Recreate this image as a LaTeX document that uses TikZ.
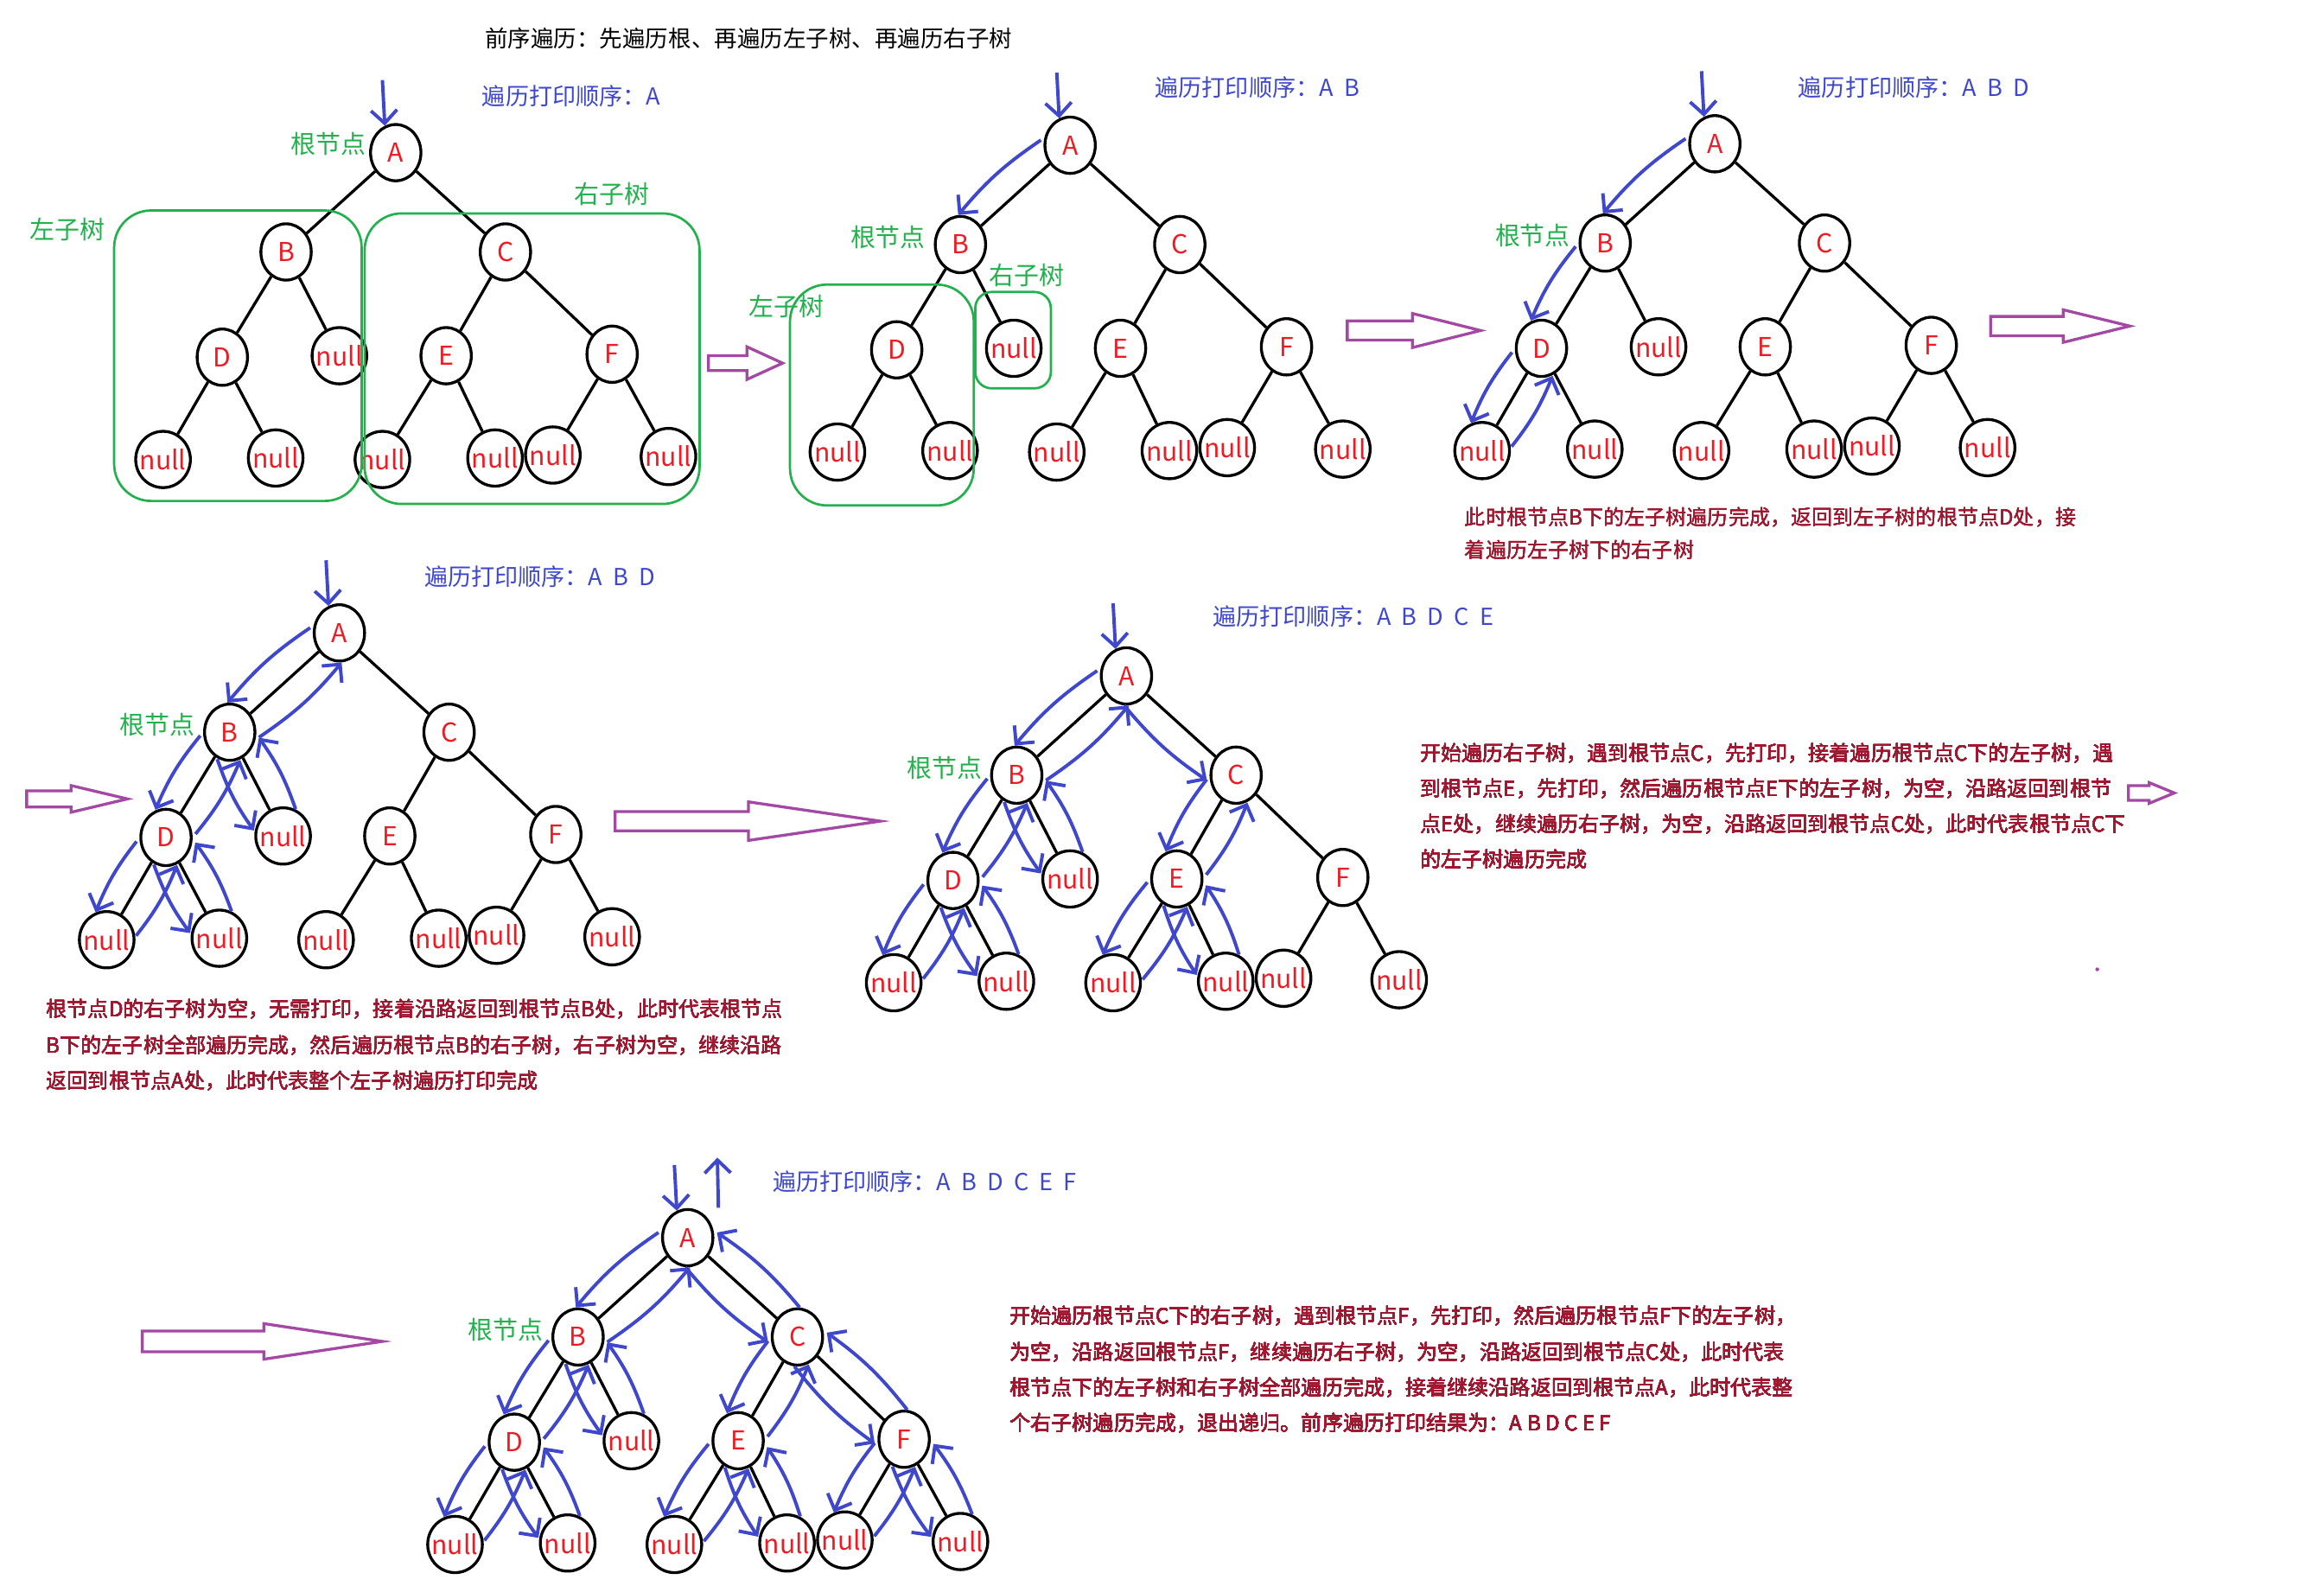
\documentclass[tikz,border=0pt]{standalone}
\usepackage{fontspec}
\setmainfont{Noto Sans CJK SC}
\usepackage{tikz}
\usetikzlibrary{arrows.meta, calc, positioning, shapes.geometric}
\definecolor{nodered}{HTML}{ED1C24}
\definecolor{walkblue}{HTML}{3F48CC}
\definecolor{treegreen}{HTML}{22B14C}
\definecolor{arrowpurple}{HTML}{A349A4}
\definecolor{notered}{HTML}{A0182F}

% one step of the walk, drawn beside the edge
\newcommand{\walk}[2]{\draw[walk] ($(#1)!7pt!(#2)!9pt!-90:(#2)$) to[bend right=8] ($(#2)!7pt!(#1)!9pt!90:(#1)$);}
% hollow arrow: x, y, end of shaft, tip, half shaft, half head
\newcommand{\blockarrow}[6]{\draw[hollow] (#1,#2-#5) -- (#3,#2-#5) -- (#3,#2-#6) -- (#4,#2)
  -- (#3,#2+#6) -- (#3,#2+#5) -- (#1,#2+#5) -- cycle;}

\begin{document}
\begin{tikzpicture}[x=0.02cm, y=-0.02cm,
    vertex/.style={draw, ellipse, line width=1.1pt, minimum width=0.68cm, minimum height=0.76cm,
                   inner sep=-1.5pt, text=nodered, font=\fontsize{10}{12}\selectfont},
    edge/.style={line width=1.1pt},
    walk/.style={walkblue, line width=1.3pt, -{Straight Barb[length=5pt, width=10pt]}},
    hollow/.style={arrowpurple, line width=1.1pt},
    greenbox/.style={treegreen, line width=0.9pt, rounded corners=0.5cm},
    greenlabel/.style={text=treegreen, font=\fontsize{9.6}{11}\selectfont, inner sep=0pt},
    order/.style={text=walkblue, font=\fontsize{9}{11}\selectfont, anchor=west, inner sep=0pt},
    note/.style={text=notered, font=\fontsize{8}{13.7}\selectfont, align=left, anchor=north west, inner sep=0pt},
    bintree/.pic={
      \node[vertex] (-A) at (0,0) {A};
      \node[vertex] (-B) at (-74,67) {B};
      \node[vertex] (-C) at (74,67) {C};
      \node[vertex] (-D) at (-117,138) {D};
      \node[vertex] (-nB) at (-38,137) {null};
      \node[vertex] (-E) at (34,137) {E};
      \node[vertex] (-F) at (146,136) {F};
      \node[vertex] (-nDL) at (-157,207) {null};
      \node[vertex] (-nDR) at (-81,206) {null};
      \node[vertex] (-nEL) at (-9,207) {null};
      \node[vertex] (-nER) at (67,206) {null};
      \node[vertex] (-nFL) at (106,204) {null};
      \node[vertex] (-nFR) at (184,205) {null};
      \coordinate (-in) at (-9,-49);
      \foreach \u/\v in {A/B, A/C, B/D, B/nB, C/E, C/F, D/nDL, D/nDR, E/nEL, E/nER, F/nFL, F/nFR}
        \draw[edge] (-\u) -- (-\v);
      \draw[walk] (-in) -- (-A.112);
    }
  ]
  \useasboundingbox (0,0) rectangle (1568,1070);

  \node[anchor=west, inner sep=0pt, font=\fontsize{8.8}{11}\selectfont] (title) at (327,26)
    {前序遍历：先遍历根、再遍历左子树、再遍历右子树};

  % tree 1
  \pic (t1) at (267,103) {bintree};
  \node[order] (t1-order) at (325,65) {遍历打印顺序：A};
  \node[greenlabel, left=1pt of t1-A, yshift=0.12cm] (t1-root) {根节点};
  \node[greenlabel, anchor=west] (t1-left) at (20,155) {左子树};
  \node[greenlabel, anchor=west] (t1-right) at (387,131) {右子树};
  \draw[greenbox] (77,142) rectangle (244,338);
  \draw[greenbox] (246,144) rectangle (472,340);
  \blockarrow{478}{245}{504}{528}{5}{11}

  % tree 2
  \pic (t2) at (722,98) {bintree};
  \node[order] (t2-order) at (779,59) {遍历打印顺序：A~~B};
  \node[greenlabel, left=3pt of t2-B, yshift=0.1cm] (t2-root) {根节点};
  \node[greenlabel, anchor=west] (t2-left) at (505,207) {左子树};
  \node[greenlabel, anchor=west] (t2-right) at (667,186) {右子树};
  \draw[greenbox] (533,192) rectangle (657,341);
  \draw[greenbox, rounded corners=0.22cm] (658,197) rectangle (709,262);
  \walk{t2-A}{t2-B}
  \blockarrow{909}{223}{953}{999}{6.5}{11.5}

  % tree 3
  \pic (t3) at (1157,97) {bintree};
  \node[order] (t3-order) at (1213,59) {遍历打印顺序：A~~B~~D};
  \node[greenlabel, left=3pt of t3-B, yshift=0.1cm] (t3-root) {根节点};
  \foreach \u/\v in {A/B, B/D, D/nDL, nDL/D}
    \walk{t3-\u}{t3-\v}
  \node[note, font=\fontsize{8}{12.5}\selectfont] (t3-note) at (988,342)
    {此时根节点B下的左子树遍历完成，返回到左子树的根节点D处，接\\着遍历左子树下的右子树};
  \blockarrow{1343}{220}{1392}{1437}{6.5}{11}

  % tree 4
  \blockarrow{18}{539}{48}{86}{5.5}{9}
  \pic (t4) at (229,427) {bintree};
  \node[order] (t4-order) at (286,389) {遍历打印顺序：A~~B~~D};
  \node[greenlabel, left=3pt of t4-B, yshift=0.1cm] (t4-root) {根节点};
  \foreach \u/\v in {A/B, B/D, D/nDL, nDL/D, D/nDR, nDR/D, D/B, B/nB, nB/B, B/A}
    \walk{t4-\u}{t4-\v}
  \node[note] (t4-note) at (31,674)
    {根节点D的右子树为空，无需打印，接着沿路返回到根节点B处，此时代表根节点\\
     B下的左子树全部遍历完成，然后遍历根节点B的右子树，右子树为空，继续沿路\\
     返回到根节点A处，此时代表整个左子树遍历打印完成};
  \blockarrow{415}{554}{505}{594}{6.5}{13}

  % tree 5
  \pic (t5) at (760,456) {bintree};
  \node[order] (t5-order) at (818,416) {遍历打印顺序：A~~B~~D~~C~~E};
  \node[greenlabel, left=3pt of t5-B, yshift=0.1cm] (t5-root) {根节点};
  \foreach \u/\v in {A/B, B/D, D/nDL, nDL/D, D/nDR, nDR/D, D/B, B/nB, nB/B, B/A,
                     A/C, C/E, E/nEL, nEL/E, E/nER, nER/E, E/C}
    \walk{t5-\u}{t5-\v}
  \node[note] (t5-note) at (958,501)
    {开始遍历右子树，遇到根节点C，先打印，接着遍历根节点C下的左子树，遇\\
     到根节点E，先打印，然后遍历根节点E下的左子树，为空，沿路返回到根节\\
     点E处，继续遍历右子树，为空，沿路返回到根节点C处，此时代表根节点C下\\
     的左子树遍历完成};
  \blockarrow{1436}{535}{1450}{1467}{5}{7}
  \fill[arrowpurple] (1415,654) circle (1.3);

  % tree 6
  \blockarrow{96}{905}{178}{258}{7}{12}
  \pic (t6) at (464,835) {bintree};
  \coordinate (t6-out) at (484,781);
  \draw[walk] ([shift={(8,-6)}]t6-A.north east) -- (t6-out);
  \node[order] (t6-order) at (521,797) {遍历打印顺序：A~~B~~D~~C~~E~~F};
  \node[greenlabel, left=3pt of t6-B, yshift=0.1cm] (t6-root) {根节点};
  \foreach \u/\v in {A/B, B/D, D/nDL, nDL/D, D/nDR, nDR/D, D/B, B/nB, nB/B, B/A,
                     A/C, C/E, E/nEL, nEL/E, E/nER, nER/E, E/C,
                     C/F, F/nFL, nFL/F, F/nFR, nFR/F, F/C, C/A}
    \walk{t6-\u}{t6-\v}
  \node[note] (t6-note) at (681,881)
    {开始遍历根节点C下的右子树，遇到根节点F，先打印，然后遍历根节点F下的左子树，\\
     为空，沿路返回根节点F，继续遍历右子树，为空，沿路返回到根节点C处，此时代表\\
     根节点下的左子树和右子树全部遍历完成，接着继续沿路返回到根节点A，此时代表整\\
     个右子树遍历完成，退出递归。前序遍历打印结果为：A B D C E F};
\end{tikzpicture}
\end{document}
